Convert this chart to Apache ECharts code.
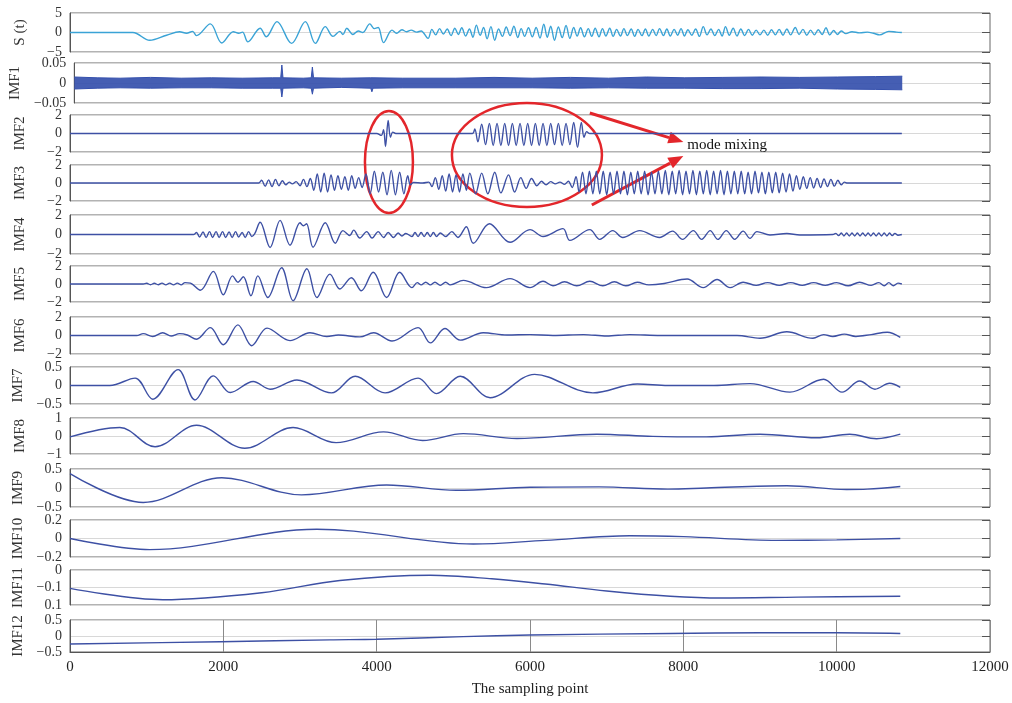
<!DOCTYPE html>
<html lang="en">
<head>
<meta charset="UTF-8">
<title>EMD decomposition</title>
<style>html,body{margin:0;padding:0;background:#fff}</style>
</head>
<body>
<div id="main" style="width:1012px;height:703px"></div>
<script src="https://cdn.jsdelivr.net/npm/echarts/dist/echarts.min.js"></script>
<script type="text/javascript">
// panel names and y ranges
var panelNames = ['S (t)','IMF1','IMF2','IMF3','IMF4','IMF5','IMF6','IMF7','IMF8','IMF9','IMF10','IMF11','IMF12'];
var yMin  = [-5, -0.05, -2, -2, -2, -2, -2, -0.5, -1, -0.5, -0.2, -0.2, -0.5];
var yMax  = [5, 0.05, 2, 2, 2, 2, 2, 0.5, 1, 0.5, 0.2, 0, 0.5];
var yStep = [5, 0.05, 2, 2, 2, 2, 2, 0.5, 1, 0.5, 0.2, 0.1, 0.5];
var imf11Labels = {'0': '0', '-0.1': '\u22120.1', '-0.2': '0.1'};   // as printed
var xMax = 12000, xStep = 2000;

// signal S(t): [sample, value]
var sig = [[0,0],[820,0],[1040,-2.0],[1260,-0.7],[1430,0.2],[1520,-0.2],[1600,0.3],[1650,-0.8],[1830,2.2],[1980,-2.7],[2130,0.2],[2200,-0.2],[2250,0.1],[2320,-2.4],[2480,1.1],[2560,-1.1],[2700,2.8],[2890,-2.8],[3070,2.8],[3200,-2.8],[3330,1.5],[3430,-1.0],[3520,0.3],[3560,-0.5],[3610,1.1],[3690,-0.5],[3760,0.4],[3820,0.0],[3910,2.2],[3970,1.0],[4020,1.3],[4090,-2.6],[4200,0.6],[4260,-0.2],[4330,0.7],[4390,0.2],[4450,0.6],[4520,0.1],[4580,0.4],[4670,-1.5],
  [4720,0.8],[4770,-0.6],[4820,1.0],[4870,-0.4],[4920,0.9],[4970,-0.8],[5020,1.1],[5065,-0.5],[5110,1.2],[5160,-0.9],[5210,0.9],[5255,-1.2],[5300,1.9],[5350,-0.7],[5395,1.3],[5440,-1.6],[5490,1.5],[5540,-2.0],[5590,0.9],[5640,-1.0],[5690,1.4],[5740,-0.8],[5790,1.6],[5840,-1.3],[5885,1.0],[5930,-1.0],[5980,1.2],[6030,-1.1],[6080,1.3],[6130,-1.4],[6180,2.1],[6225,-1.2],[6270,1.6],[6320,-2.0],[6370,1.4],[6420,-1.3],[6470,1.8],[6520,-1.5],[6570,1.3],[6615,-0.9],[6660,1.2],[6710,-1.1],[6760,1.0],[6805,-1.0],[6850,1.1],[6900,-1.1],[6945,1.0],[6990,-0.9],[7040,1.1],[7085,-1.0],[7130,0.8],[7180,-0.9],[7225,1.0],[7270,-0.8],[7320,0.9],[7365,-1.0],[7410,0.8],[7460,-0.8],[7505,0.9],[7550,-0.9],[7600,0.8],[7645,-0.8],[7690,1.0],[7740,-0.8],[7785,0.9],[7830,-0.9],[7880,0.8],[7925,-0.7],[7970,1.0],[8015,-0.9],[8060,0.7],[8110,-0.7],[8160,0.9],[8210,-1.0],[8260,1.5],[8310,-0.6],[8360,0.9],[8410,-0.8],[8460,0.8],[8505,-0.9],[8550,1.5],[8600,-0.7],[8650,1.1],[8700,-0.9],[8750,0.9],[8800,-0.8],[8850,0.8],[8900,-0.7],[8950,0.6],[9000,-0.6],[9050,0.6],[9100,-0.7],[9150,0.7],[9200,-0.6],[9250,0.8],[9300,-0.7],[9350,0.9],[9400,-0.6],[9460,1.3],[9510,-0.5],[9560,0.8],[9610,-0.7],[9660,0.6],[9710,-0.6],[9760,0.7],[9810,-0.5],[9860,1.2],[9910,-0.6],[9960,0.5],[10010,-0.5],[10060,0.4],[10120,-0.3],[10200,0.2],[10300,-0.1],[10400,0.1],[10480,-0.2],[10560,-0.6],[10680,0.3],[10780,0.1],[10850,0.0]];

// IMF1 is a dense noise band: [sample, upper envelope, lower envelope]
var imf1Env = [[0,0.015,-0.015],[300,0.013,-0.013],[600,0.012,-0.012],[1000,0.014,-0.013],[1400,0.012,-0.012],[1800,0.013,-0.012],[2200,0.012,-0.013],[2600,0.013,-0.013],[2705,0.013,-0.013],[2720,0.045,-0.035],[2735,0.013,-0.013],[3000,0.012,-0.012],[3105,0.013,-0.013],[3120,0.04,-0.028],[3135,0.013,-0.013],[3500,0.012,-0.011],[3885,0.013,-0.013],[3900,0.018,-0.022],[3915,0.013,-0.013],[4300,0.012,-0.012],[5000,0.012,-0.012],[5500,0.014,-0.012],[6000,0.012,-0.012],[6500,0.014,-0.013],[7000,0.012,-0.012],[7500,0.015,-0.013],[8000,0.013,-0.013],[8500,0.014,-0.014],[9000,0.015,-0.014],[9500,0.014,-0.013],[10000,0.015,-0.015],[10500,0.016,-0.016],[10850,0.017,-0.017]];

var imf2 = [[0,0],[4000,0],[4060,-0.2],[4090,0.4],[4115,-1.4],[4150,1.4],[4180,-0.4],[4210,0.15],[4250,0],[5250,0],
  [5280,0.5],[5320,-0.9],[5370,1.0],[5420,-1.2],[5470,1.1],[5520,-1.3],[5570,1.1],[5620,-1.3],[5670,1.1],[5720,-1.3],[5770,1.1],[5820,-1.3],[5870,1.1],[5920,-1.3],[5970,1.1],[6020,-1.3],[6070,1.1],[6120,-1.3],[6170,1.1],[6220,-1.3],[6270,1.1],[6320,-1.2],[6370,1.1],[6420,-1.3],[6470,1.1],[6520,-1.2],[6570,1.2],[6620,-1.5],[6670,1.2],[6705,-0.4],[6740,0.2],[6780,0],[10850,0]];

var imf3 = [[0,0],[2460,0],[2500,0.3],[2545,-0.35],[2590,0.35],[2635,-0.4],[2680,0.4],[2725,-0.3],[2770,0.25],[2815,-0.2],[2860,0.1],[2900,-0.1],[2950,0.15],[3000,-0.3],[3045,0.4],[3090,-0.4],[3135,0.5],[3180,-0.8],
  [3225,1.0],[3270,-1.0],[3315,1.1],[3360,-1.0],[3405,0.9],[3450,-0.8],[3495,0.8],[3540,-0.7],[3585,0.7],[3630,-0.8],[3675,0.8],[3720,-0.6],[3765,0.6],[3810,-0.5],
  [3860,1.0],[3915,-1.2],[3970,1.3],[4025,-1.0],[4080,1.2],[4135,-1.3],[4190,1.4],[4245,-1.3],[4300,1.2],[4355,-1.2],[4405,0.8],[4440,-0.2],[4480,0.05],[4600,0],[4680,0.1],
  [4720,-0.4],[4765,0.6],[4810,-0.7],[4855,0.8],[4900,-0.9],[4945,1.0],[4990,-1.0],[5035,0.9],[5080,-1.0],[5125,1.0],[5170,-0.8],[5215,1.1],
  [5290,-1.2],[5370,1.1],[5450,-1.2],[5540,1.2],[5620,-1.1],[5720,0.9],[5800,-1.0],[5880,0.6],[5950,-0.6],[6020,0.5],[6090,-0.3],[6150,0.2],[6210,-0.2],[6270,0.15],[6330,-0.1],[6390,0.1],[6450,-0.15],[6500,0.2],[6550,-0.5],[6600,0.7],
  [6640,-1.0],[6685,1.2],[6730,-1.2],[6775,1.3],[6820,-1.2],[6865,1.3],[6910,-1.2],[6955,1.3],[7000,-1.3],[7045,1.2],[7090,-1.2],[7135,1.3],[7180,-1.2],[7225,1.3],[7270,-1.3],[7315,1.2],[7360,-1.2],[7405,1.3],[7450,-1.2],[7495,1.3],[7540,-1.3],[7585,1.2],[7630,-1.2],[7675,1.3],[7720,-1.2],[7765,1.4],[7810,-1.3],[7855,1.3],[7900,-1.2],[7945,1.4],[7990,-1.3],[8035,1.3],[8080,-1.2],[8125,1.4],[8170,-1.3],[8215,1.3],[8260,-1.2],[8305,1.4],[8350,-1.3],[8395,1.3],[8440,-1.2],[8485,1.4],[8530,-1.3],[8575,1.3],[8620,-1.2],[8665,1.3],[8710,-1.2],[8755,1.3],[8800,-1.2],[8845,1.2],[8890,-1.2],[8935,1.3],[8980,-1.1],[9025,1.2],[9070,-1.2],[9115,1.2],[9160,-1.1],[9205,1.2],[9250,-1.1],[9295,1.1],[9340,-1.0],[9385,1.0],[9430,-0.9],[9475,0.8],[9520,-0.7],[9565,0.7],[9610,-0.6],[9655,0.6],[9700,-0.55],[9745,0.5],[9790,-0.5],[9835,0.45],[9880,-0.4],[9925,0.4],[9970,-0.35],[10015,0.3],[10060,-0.2],[10100,0.1],[10140,0],[10850,0]];

var imf4 = [[0,0],[1610,0],[1650,0.2],[1690,-0.25],[1735,0.25],[1775,-0.3],[1820,0.3],[1860,-0.3],[1905,0.3],[1945,-0.3],[1990,0.3],[2030,-0.3],[2075,0.25],[2115,-0.3],[2160,0.3],[2200,-0.25],[2245,0.2],[2285,-0.3],[2330,0.3],[2370,-0.2],[2410,0.1],
  [2480,1.26],[2610,-1.33],[2740,1.45],[2870,-1.1],[3000,1.2],[3045,0.9],[3085,1.1],[3170,-1.3],[3330,1.2],[3460,-0.9],[3560,0.4],[3650,-0.1],[3700,0.45],[3780,-0.36],[3870,0.3],[3940,-0.36],[4020,0.3],[4090,-0.3],[4150,0.2],[4220,-0.3],[4280,0.15],[4330,-0.15],[4380,0.1],
  [4460,-0.2],[4500,0.2],[4540,-0.2],[4580,0.2],[4620,-0.2],[4660,0.2],[4700,-0.2],[4740,0.2],[4780,-0.2],[4830,0.15],[4900,-0.2],[4980,0.3],[5060,-0.3],[5170,0.8],[5260,-0.9],[5470,1.1],[5740,-0.8],[6000,0.5],[6170,-0.2],[6430,0.6],[6520,-0.6],[6780,0.5],[6910,-0.5],[7080,0.4],[7210,-0.3],[7430,0.4],[7690,-0.3],
  [7860,0.35],[7990,-0.5],[8130,0.4],[8240,-0.5],[8350,0.4],[8450,-0.5],[8560,0.4],[8670,-0.5],[8780,0.35],[8870,-0.4],[8960,0.3],[9130,-0.05],[9350,0.1],[9520,-0.05],[9950,0],
  [9990,0.12],[10025,-0.12],[10060,0.15],[10095,-0.15],[10130,0.15],[10165,-0.15],[10200,0.15],[10235,-0.15],[10270,0.15],[10305,-0.15],[10340,0.15],[10375,-0.15],[10410,0.15],[10445,-0.15],[10480,0.15],[10515,-0.15],[10550,0.15],[10585,-0.15],[10620,0.15],[10655,-0.15],[10690,0.15],[10725,-0.12],[10760,0.12],[10800,-0.08],[10850,0]];

var imf5 = [[0,0],[955,0],[1000,0.08],[1050,-0.08],[1100,0.08],[1150,-0.08],[1200,0.1],[1250,-0.1],[1300,0.1],[1350,-0.1],[1400,0.1],[1450,-0.1],[1500,0.15],[1570,0.1],
  [1700,-0.7],[1870,1.4],[2000,-1.2],[2120,0.9],[2190,0.2],[2260,0.8],[2360,-1.3],[2450,0.9],[2580,-1.5],[2760,1.8],[2910,-1.85],[3090,1.7],[3220,-1.5],[3390,1.1],[3520,-0.55],[3670,0.7],[3800,-0.75],[3955,1.3],[4130,-1.5],[4300,1.3],[4460,-0.4],
  [4530,0.15],[4580,-0.1],[4640,0.2],[4700,-0.1],[4760,0.2],[4830,-0.15],[4900,0.2],[4960,-0.1],[5130,0.4],[5430,-0.4],[5740,0.6],[6000,-0.4],[6170,0.3],[6300,-0.2],[6450,0.25],[6610,-0.2],[6780,0.3],[6950,-0.2],[7100,0.25],[7250,-0.2],[7400,0.2],[7550,-0.1],[7750,0.05],
  [8050,0.55],[8260,-0.4],[8440,0.5],[8610,-0.4],[8780,0.2],[8950,-0.15],[9100,0.15],[9250,-0.15],[9400,0.15],[9550,-0.15],[9700,0.15],[9850,-0.15],[10000,0.15],[10150,-0.2],[10300,0.2],[10450,-0.15],[10550,0.15],[10620,-0.2],[10680,0.15],[10740,-0.2],[10800,0.1],[10850,0]];

var imf6 = [[0,0],[870,0],[955,0.2],[1080,-0.1],[1210,0.3],[1320,-0.05],[1430,0.2],[1530,0.05],[1650,-0.4],[1830,0.85],[2000,-1.0],[2190,1.15],[2370,-1.1],[2570,0.8],[2870,-0.55],[3130,0.3],[3350,-0.1],[3500,0.05],[3780,-0.15],[3960,0.3],[4200,-0.6],[4540,0.85],[4700,-0.8],[4890,0.75],[5090,-0.5],[5390,0.3],
  [5700,0.05],[6000,0.1],[6300,0.0],[6700,0.1],[7000,-0.05],[7300,0.1],[7700,0],[8300,0],[8700,0],[9000,-0.3],[9350,0.4],[9690,-0.3],[9830,0.1],[9950,-0.1],[10100,0.15],[10250,-0.1],[10450,0.1],[10660,0.35],[10830,-0.2]];

var imf7 = [[0,0],[520,0],[850,0.2],[1080,-0.37],[1410,0.43],[1630,-0.39],[1870,0.26],[2090,-0.19],[2390,0.11],[2610,-0.1],[2960,0.15],[3410,-0.2],[3720,0.25],[4110,-0.2],[4540,0.2],[4780,-0.22],[5090,0.25],[5480,-0.33],[6060,0.3],[6820,-0.2],[7400,0.04],[7800,0],[8400,0],[8870,0.05],[9390,-0.18],[9830,0.17],[10070,-0.18],[10300,0.12],[10500,-0.1],[10690,0.06],[10830,-0.05]];

var imf8 = [[0,-0.05],[650,0.47],[1110,-0.6],[1650,0.6],[2280,-0.68],[2910,0.47],[3470,-0.37],[4090,0.23],[4600,-0.25],[5130,0.13],[5830,-0.14],[6870,0.1],[7600,-0.02],[8300,-0.05],[9000,0.1],[9740,-0.1],[10170,0.1],[10520,-0.15],[10830,0.1]];

var imf9 = [[0,0.38],[955,-0.38],[1980,0.27],[3020,-0.18],[4130,0.08],[5040,-0.06],[6000,0.02],[6900,0.03],[7800,-0.03],[8300,0.0],[9350,0.06],[10130,-0.04],[10400,-0.03],[10830,0.04]];

var imf10 = [[0,0],[1040,-0.12],[3220,0.1],[3700,0.08],[5260,-0.06],[6200,-0.02],[7300,0.03],[8000,0.02],[9220,-0.02],[10000,-0.015],[10830,0]];

var imf11 = [[0,-0.105],[1210,-0.17],[2500,-0.13],[3520,-0.06],[4700,-0.03],[5500,-0.05],[6200,-0.08],[7000,-0.12],[7830,-0.15],[8500,-0.16],[9500,-0.155],[10830,-0.15]];

var imf12 = [[0,-0.25],[1960,-0.18],[3390,-0.12],[4000,-0.1],[5130,-0.02],[6000,0.03],[7830,0.08],[9000,0.1],[10000,0.1],[10830,0.08]];

// annotation anchors, in samples
var circleAt = [4160, 5960];
var arrowFrom = 6780, arrowTo = 8000;

// layout (pixels)
var gridTop = [13, 63, 115, 165, 215, 266, 317, 367, 418, 469, 520, 570, 620];
var gridH   = [39, 40, 37, 36, 39, 36, 37, 37, 36, 38, 37, 35, 32];
var serif = 'Liberation Serif';
var imfColor = '#3d50a4';

var myChart = echarts.init(document.getElementById('main'));

function fmt(i) {
    return function (v) {
        if (i === 11) return imf11Labels[String(+v.toFixed(2))];
        var s = String(+v.toFixed(3));
        return s.replace('-', '\u2212');
    };
}

var grids = [], xAxes = [], yAxes = [], series = [];
var lines = [sig, null, imf2, imf3, imf4, imf5, imf6, imf7, imf8, imf9, imf10, imf11, imf12];
var last = panelNames.length - 1;

for (var i = 0; i < panelNames.length; i++) {
    grids.push({left: 70, right: 22, top: gridTop[i], height: gridH[i],
        show: true, borderColor: '#666', borderWidth: 1});
    xAxes.push({
        type: 'value', gridIndex: i, min: 0, max: xMax, interval: xStep,
        axisLine: {show: i === last, onZero: false, lineStyle: {color: '#555'}},
        axisTick: {show: false},
        axisLabel: {show: i === last, fontFamily: serif, fontSize: 15, color: '#222', margin: 8,
            formatter: function (v) { return String(v); }},
        splitLine: {show: i === last, lineStyle: {color: '#8a8a8a'}},
        name: i === last ? 'The sampling point' : '',
        nameLocation: 'middle', nameGap: 30,
        nameTextStyle: {fontFamily: serif, fontSize: 15, color: '#222'}
    });
    // left axis with labels and name
    yAxes.push({
        type: 'value', gridIndex: i, min: yMin[i], max: yMax[i], interval: yStep[i],
        axisLine: {show: true, lineStyle: {color: '#555'}},
        axisTick: {show: false},
        axisLabel: {fontFamily: serif, fontSize: 14, color: '#333', margin: 8, formatter: fmt(i)},
        splitLine: {show: true, lineStyle: {color: '#d8d8d8'}},
        name: panelNames[i], nameLocation: 'middle', nameRotate: 90, nameGap: 42,
        nameTextStyle: {fontFamily: serif, fontSize: 15, color: '#333'}
    });
    // right axis: only the small inside ticks
    yAxes.push({
        type: 'value', gridIndex: i, position: 'right', min: yMin[i], max: yMax[i], interval: yStep[i],
        axisLine: {show: false},
        axisTick: {show: true, inside: true, length: 8, lineStyle: {color: '#555'}},
        axisLabel: {show: false},
        splitLine: {show: false}
    });

    if (i === 1) {
        var up = imf1Env.map(function (d) { return [d[0], d[1]]; });
        var lo = imf1Env.map(function (d) { return [d[0], d[2]]; });
        [up, lo].forEach(function (d) {
            series.push({type: 'line', xAxisIndex: i, yAxisIndex: 2 * i, data: d,
                showSymbol: false, silent: true,
                lineStyle: {color: '#3550ad', width: 1},
                areaStyle: {color: '#3550ad', opacity: 0.92}});
        });
    } else {
        series.push({type: 'line', xAxisIndex: i, yAxisIndex: 2 * i, data: lines[i],
            showSymbol: false, smooth: 0.35, silent: true,
            lineStyle: {color: i === 0 ? '#3aa3d6' : imfColor, width: 1.4}});
    }
}

myChart.setOption({
    animation: false,
    backgroundColor: '#fff',
    grid: grids,
    xAxis: xAxes,
    yAxis: yAxes,
    series: series
});

// red annotations (mode mixing)
var red = '#e3262b';
function px(x) { return myChart.convertToPixel({xAxisIndex: 0}, x); }
function arrow(x1, y1, x2, y2) {
    var a = Math.atan2(y2 - y1, x2 - x1), L = 15, W = 6;
    var bx = x2 - L * Math.cos(a), by = y2 - L * Math.sin(a);
    return [
        {type: 'line', shape: {x1: x1, y1: y1, x2: bx, y2: by}, style: {stroke: red, lineWidth: 3}},
        {type: 'polygon', shape: {points: [[x2, y2],
            [bx + W * Math.sin(a), by - W * Math.cos(a)],
            [bx - W * Math.sin(a), by + W * Math.cos(a)]]}, style: {fill: red}}
    ];
}
var e1 = px(circleAt[0]), e2 = px(circleAt[1]), a0 = px(arrowFrom), a1 = px(arrowTo);
var gfx = [
    {type: 'ellipse', shape: {cx: e1, cy: 162, rx: 24, ry: 51}, style: {fill: 'none', stroke: red, lineWidth: 2.5}},
    {type: 'ellipse', shape: {cx: e2, cy: 155, rx: 75, ry: 52}, style: {fill: 'none', stroke: red, lineWidth: 2.5}},
    {type: 'text', left: a1 + 4, top: 138, style: {text: 'mode mixing', font: '15px "Liberation Serif"', fill: '#111'}}
].concat(arrow(a0, 113, a1, 142)).concat(arrow(a0 + 2, 205, a1, 156));
myChart.setOption({graphic: gfx});
</script>
</body>
</html>
